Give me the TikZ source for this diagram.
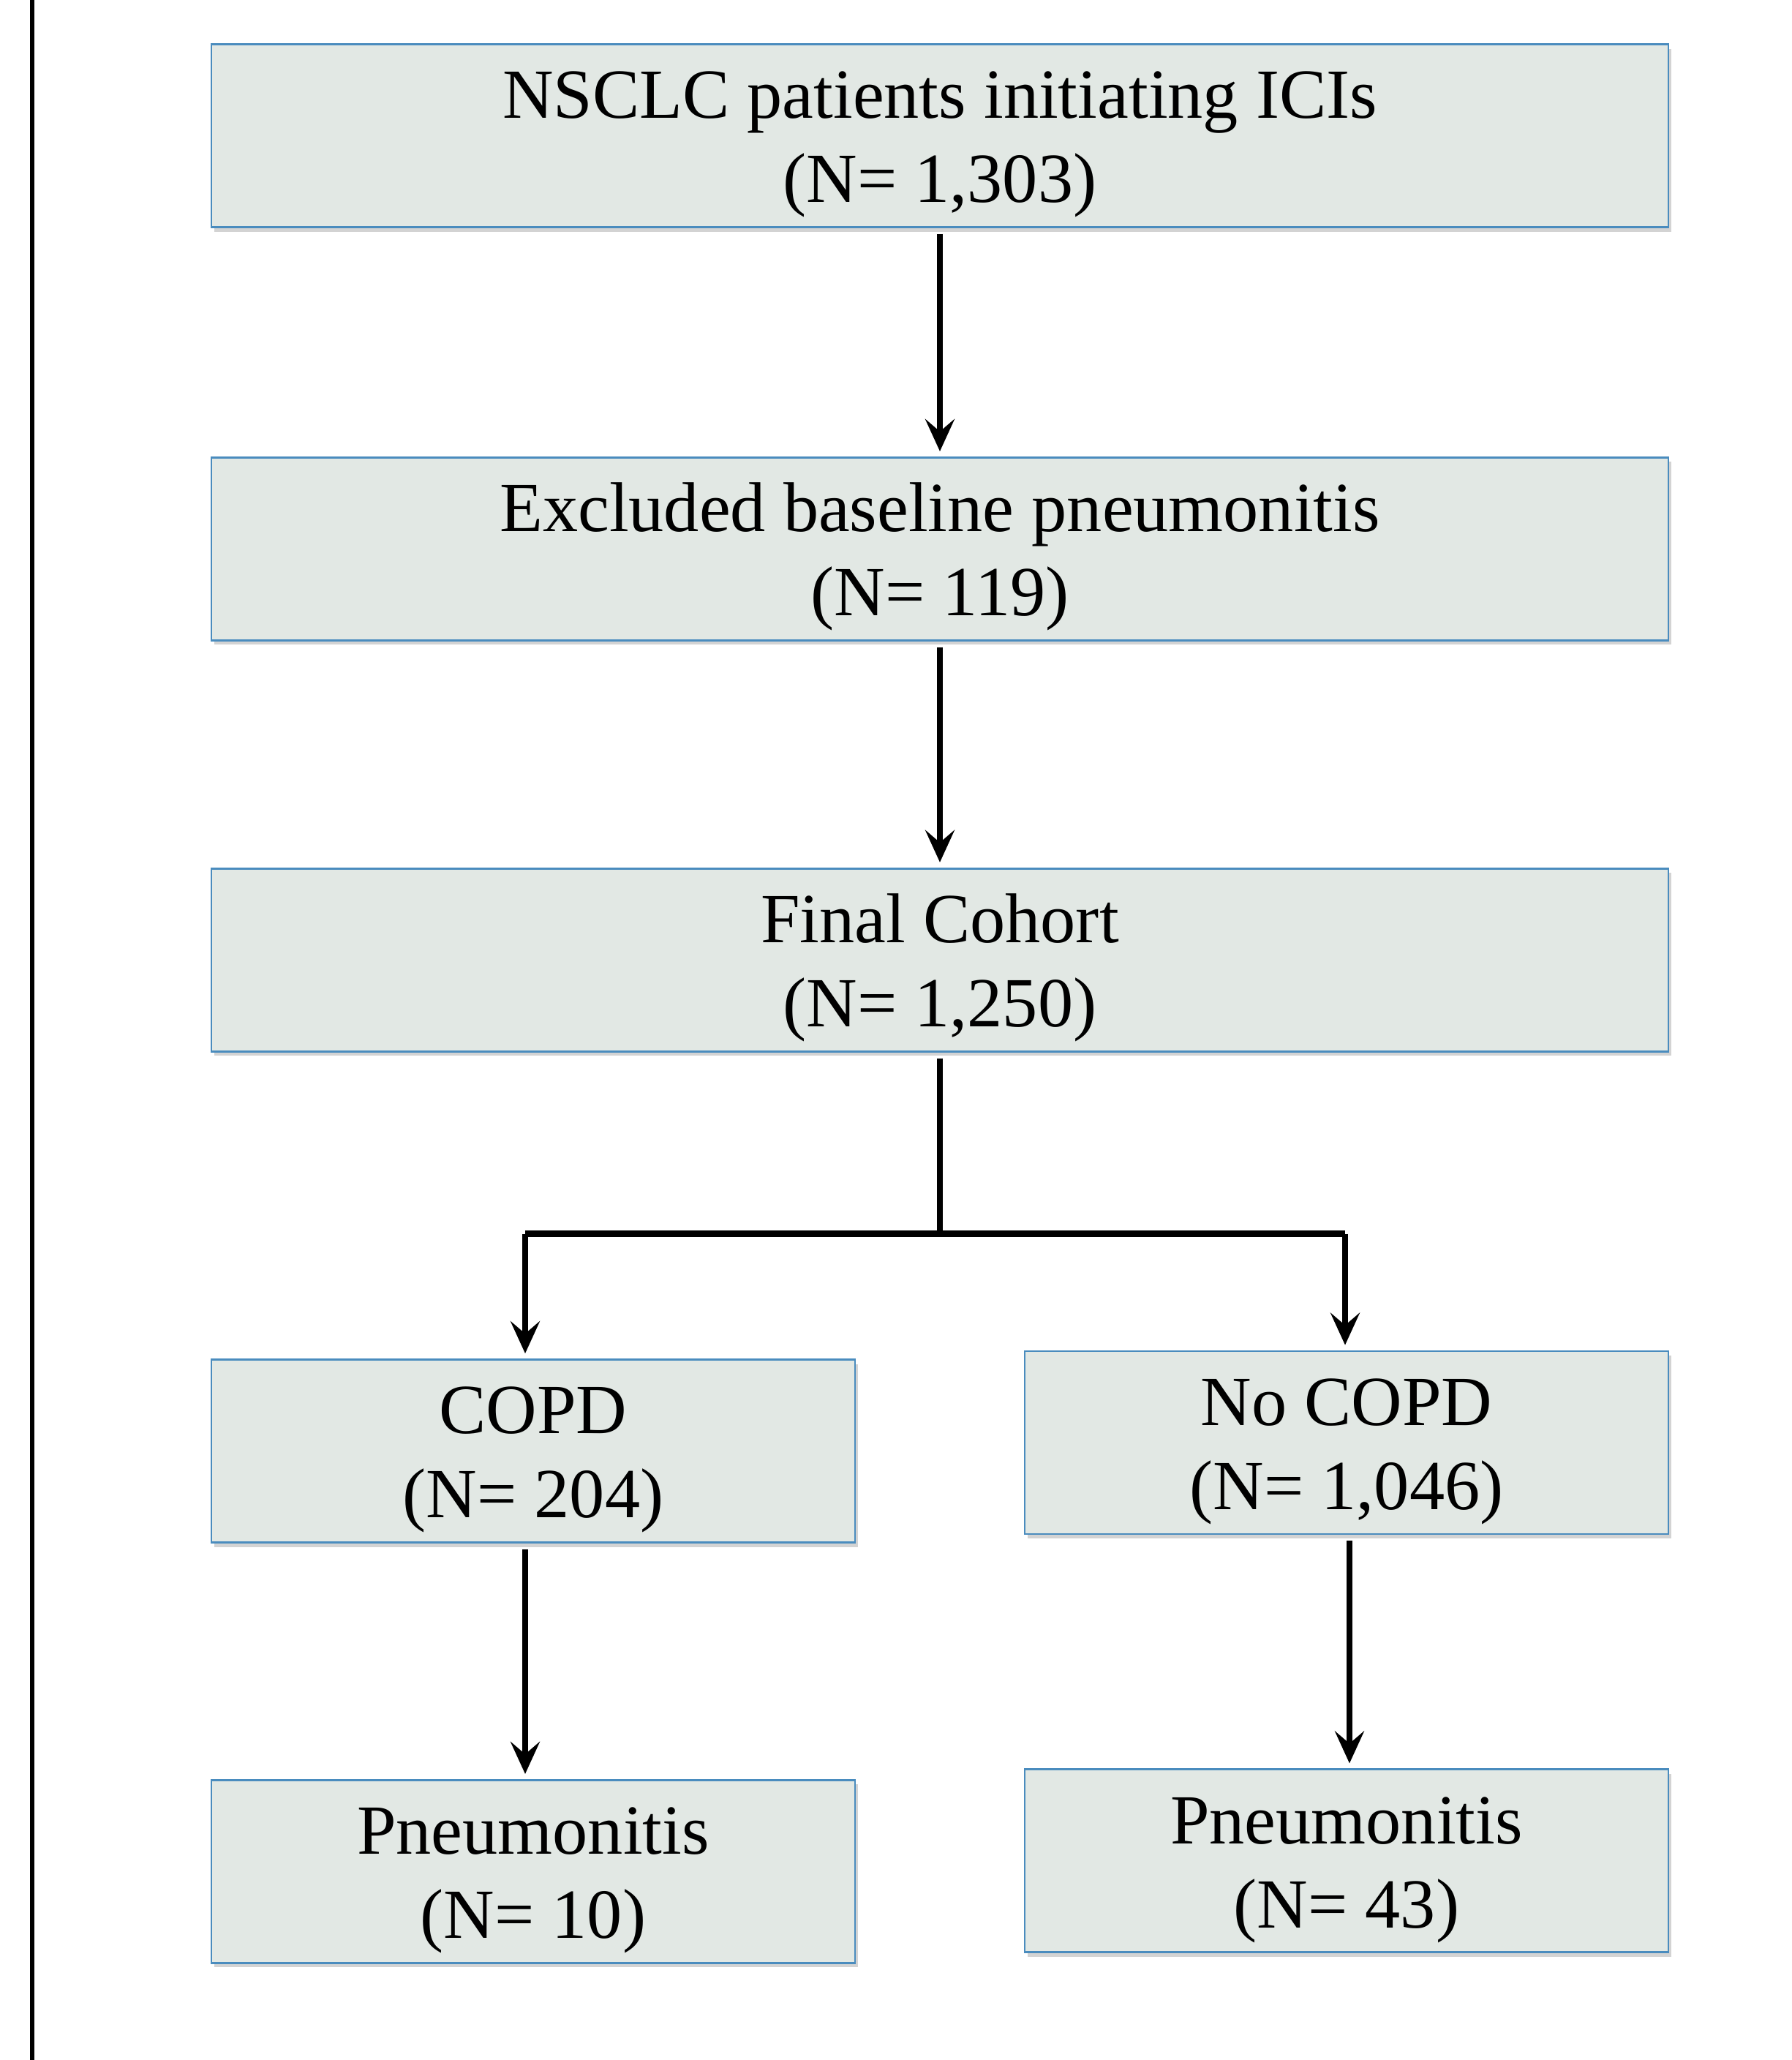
\documentclass[tikz,border=0pt]{standalone}
\usepackage{fontspec}
\setmainfont{Liberation Serif}
\usepackage{tikz}
\usetikzlibrary{positioning,arrows.meta,shadows}
\definecolor{boxfill}{RGB}{226,232,228}
\definecolor{boxline}{RGB}{74,140,190}
\newcommand{\boxlines}[2]{\raisebox{0pt}[0pt][13.4pt]{\begin{tabular}[t]{@{}c@{}}#1\\#2\end{tabular}}}

\tikzset{
   flowbox/.style={draw=boxline, fill=boxfill, line width=0.8pt, minimum height=2.5cm,
      inner sep=0pt, font=\fontsize{27.4}{32.7}\selectfont,
      drop shadow={shadow xshift=0.4mm, shadow yshift=-0.6mm, opacity=0.35}},
   widebox/.style={flowbox, minimum width=19.92cm},
   halfbox/.style={flowbox, minimum width=8.8cm},
   flow/.style={line width=2pt, shorten <=0.8mm, shorten >=0.7mm,
      -{Stealth[length=4.4mm, width=4mm, inset=1.7mm]}},
   branch/.style={line width=2.7pt},
}

\begin{document}
\begin{tikzpicture}
   \useasboundingbox (0,0) rectangle (24.5,-28.16);
   \coordinate (margtop) at (0.44,0);
   \coordinate (margbot) at (0.44,-28.16);
   \draw[line width=1.5pt] (margtop) -- (margbot);

   \node[widebox] (start) at (12.85,-1.855) {\boxlines{NSCLC patients initiating ICIs}{(N= 1,303)}};
   \node[widebox, below=3.12cm of start] (excl) {\boxlines{Excluded baseline pneumonitis}{(N= 119)}};
   \node[widebox, below=3.09cm of excl] (final) {\boxlines{Final Cohort}{(N= 1,250)}};
   \node[halfbox] (copd) at (7.29,-19.835) {\boxlines{COPD}{(N= 204)}};
   \node[halfbox] (nocopd) at (18.41,-19.72) {\boxlines{No COPD}{(N= 1,046)}};
   \node[halfbox, below=3.22cm of copd] (pneucopd) {\boxlines{Pneumonitis}{(N= 10)}};
   \node[halfbox, below=3.19cm of nocopd] (pneunocopd) {\boxlines{Pneumonitis}{(N= 43)}};
   \coordinate[below=2.48cm of final] (split);

   \draw[flow] (start) -- (excl);
   \draw[flow] (excl) -- (final);
   \draw[line width=2pt, shorten <=0.8mm] (final.south) -- (split);
   \draw[branch] ([xshift=-1.1mm]split -| copd) -- ([xshift=-0.2mm]split -| nocopd);
   \draw[flow, shorten <=0pt] ([xshift=-1.1mm]split -| copd) -- ([xshift=-1.1mm]copd.north);
   \draw[flow, shorten <=0pt] ([xshift=-0.2mm]split -| nocopd) -- ([xshift=-0.2mm]nocopd.north);
   \draw[flow] ([xshift=-1.1mm]copd.south) -- ([xshift=-1.1mm]pneucopd.north);
   \draw[flow] ([xshift=0.4mm]nocopd.south) -- ([xshift=0.4mm]pneunocopd.north);
\end{tikzpicture}
\end{document}
